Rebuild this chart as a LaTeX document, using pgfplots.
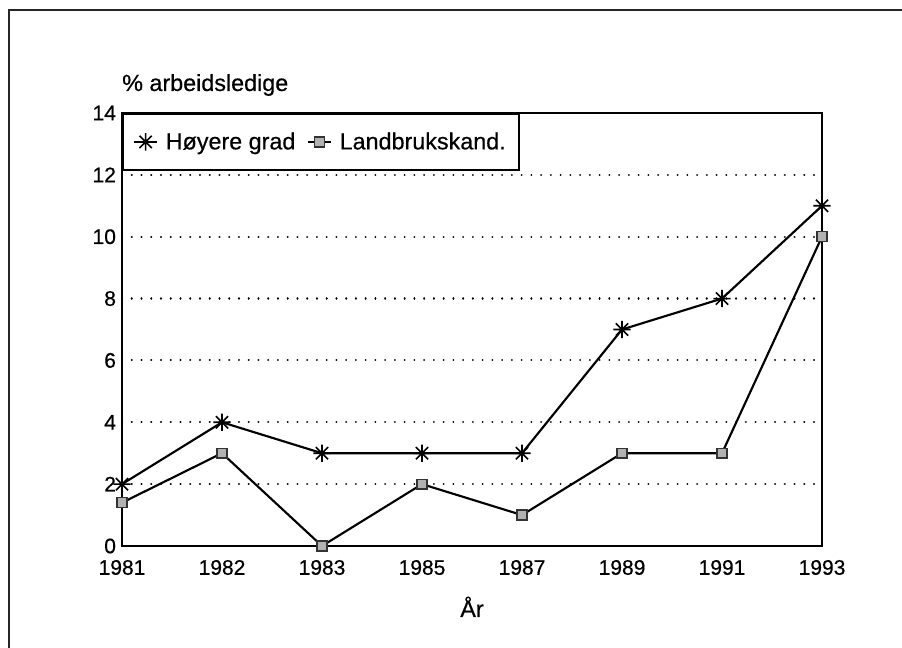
\documentclass[border=0pt]{standalone}
\usepackage{fontspec}
\setmainfont[FakeBold=0.5]{Liberation Sans}
\usepackage{pgfplots}
\pgfplotsset{compat=1.18}

% 8-armed asterisk, as in the old chart
\pgfdeclareplotmark{star8}{%
  \pgfpathmoveto{\pgfqpoint{-\pgfplotmarksize}{0pt}}%
  \pgfpathlineto{\pgfqpoint{\pgfplotmarksize}{0pt}}%
  \pgfpathmoveto{\pgfqpoint{0pt}{-\pgfplotmarksize}}%
  \pgfpathlineto{\pgfqpoint{0pt}{\pgfplotmarksize}}%
  \pgfpathmoveto{\pgfqpoint{-0.707\pgfplotmarksize}{-0.707\pgfplotmarksize}}%
  \pgfpathlineto{\pgfqpoint{0.707\pgfplotmarksize}{0.707\pgfplotmarksize}}%
  \pgfpathmoveto{\pgfqpoint{-0.707\pgfplotmarksize}{0.707\pgfplotmarksize}}%
  \pgfpathlineto{\pgfqpoint{0.707\pgfplotmarksize}{-0.707\pgfplotmarksize}}%
  \pgfusepathqstroke}

\pgfplotstableread{
x hoyere landbruk
0 2  1.4
1 4  3
2 3  0
3 3  2
4 3  1
5 7  3
6 8  3
7 11 10
}\ledige

\begin{document}
\begin{tikzpicture}
\path[use as bounding box] (-91.5pt,-76.5pt) rectangle (585pt,409.5pt);
\draw[line width=2.2pt, black!85] (-84.75pt,-76.5pt) -- (-84.75pt,402pt) -- (585pt,402pt);
\begin{axis}[
  at={(0,0)}, anchor=south west,
  scale only axis, width=525pt, height=324.75pt,
  xmin=0, xmax=7, ymin=0, ymax=14,
  xtick={0,...,7},
  xticklabels={1981,1982,1983,1985,1987,1989,1991,1993},
  ytick={0,2,...,14},
  major tick length=0pt,
  /pgf/number format/assume math mode=true,
  tick label style={font=\fontsize{15.8}{18}\selectfont},
  yticklabel style={xshift=-1pt},
  xticklabel style={yshift=-7pt},
  axis line style={line width=1.4pt},
  ymajorgrids,
  grid style={black, line width=1.6pt, dash pattern=on 0.01pt off 7.3pt, line cap=round},
  xlabel={År},
  xlabel style={at={(axis description cs:0.5,0)}, anchor=base, yshift=-53.25pt,
    font=\fontsize{17.5}{20}\selectfont},
  legend columns=2,
  legend style={at={(axis cs:0,14)}, anchor=north west, draw=black,
    line width=1.2pt, fill=white, font=\fontsize{17.5}{20}\selectfont,
    inner xsep=8pt, inner ysep=12pt,
    /tikz/every odd column/.append style={column sep=4pt},
    /tikz/every even column/.append style={column sep=7pt}},
  legend image code/.code={%
    \draw[#1, line width=1.2pt] (0pt,0pt) -- (17pt,0pt);
    \draw[#1, only marks] plot coordinates {(8.5pt,0pt)};},
  clip=false,
]
\addplot[black, line width=1.6pt, mark=star8, mark size=6.5pt,
  mark options={line width=1.2pt}] table[x=x,y=hoyere] {\ledige};
\addlegendentry{Høyere grad}
\addplot[black, line width=1.6pt, mark=square*, mark size=3.7pt,
  mark options={fill=gray!60, draw=black!80, line width=1pt}] table[x=x,y=landbruk] {\ledige};
\addlegendentry{Landbrukskand.}
\end{axis}
\node[anchor=base west, font=\fontsize{17.5}{20}\selectfont, inner sep=0pt] at (0pt,341.25pt) {\% arbeidsledige};
\end{tikzpicture}
\end{document}
